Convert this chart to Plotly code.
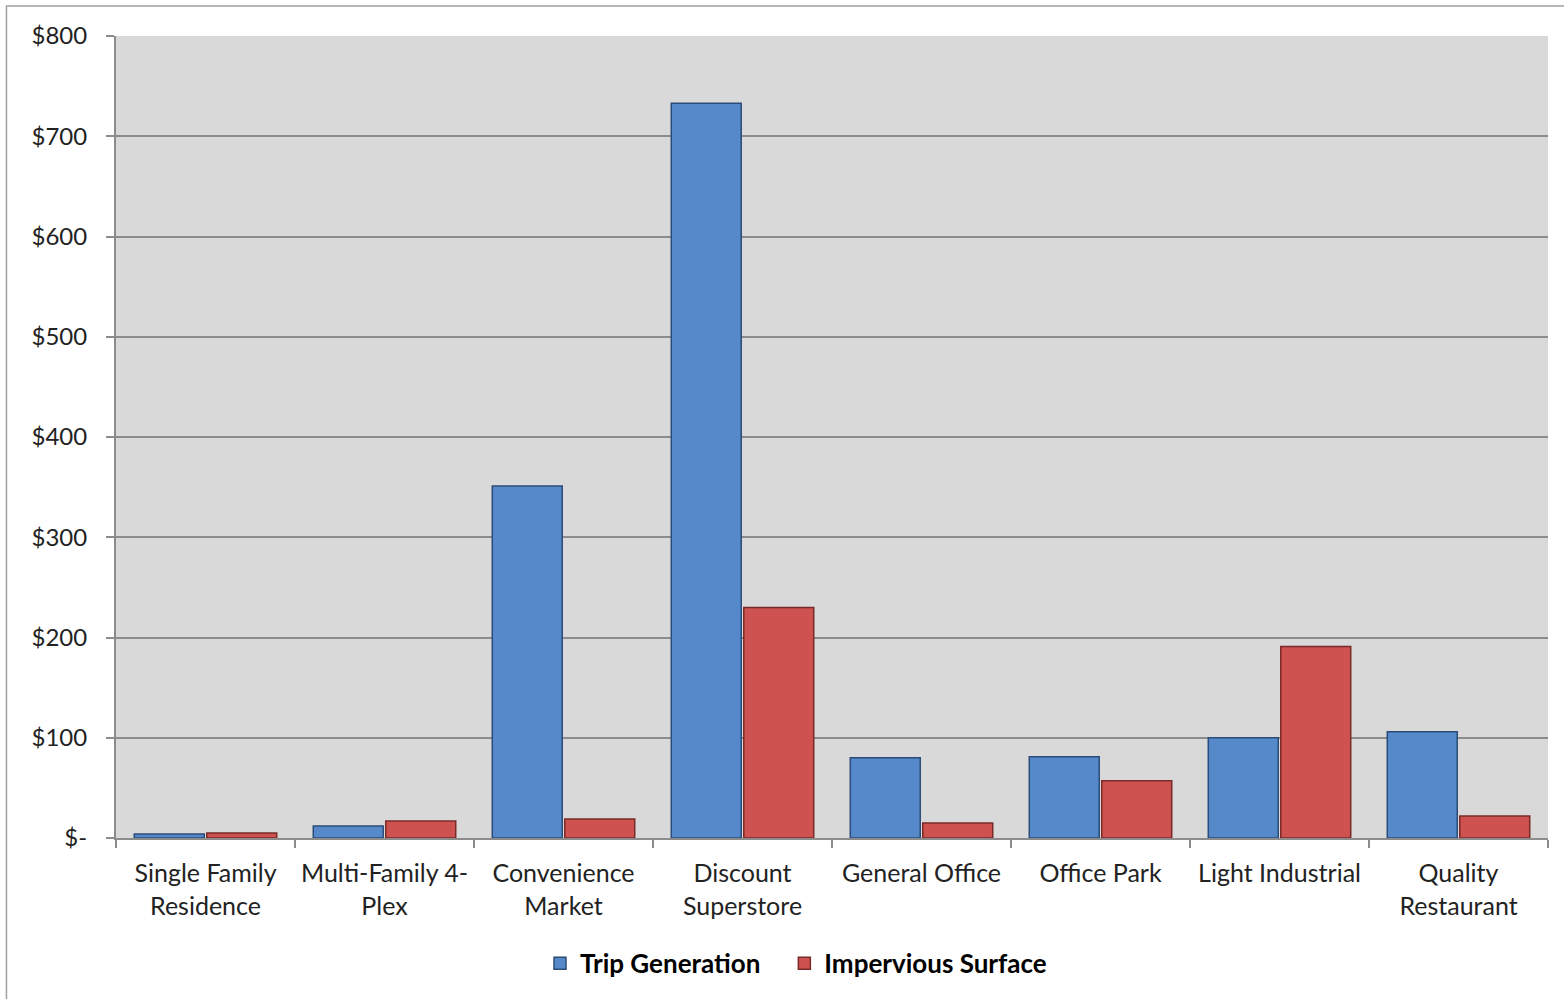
import plotly.graph_objects as go

categories = ["Single Family<br>Residence", "Multi-Family 4-<br>Plex", "Convenience<br>Market",
              "Discount<br>Superstore", "General Office", "Office Park", "Light Industrial",
              "Quality<br>Restaurant"]
trip_generation = [4, 12, 351, 733, 80, 81, 100, 106]
impervious_surface = [5, 17, 19, 230, 15, 57, 191, 22]
tick_vals = [0, 100, 200, 300, 400, 500, 600, 700, 800]
tick_text = ["$-", "$100", "$200", "$300", "$400", "$500", "$600", "$700", "$800"]

FONT = "Lato"
PAD = "\u00a0" * 3

fig = go.Figure()
fig.add_trace(go.Bar(x=categories, y=trip_generation, name="Trip Generation" + PAD,
                     marker=dict(color="#5589CA", line=dict(color="#2B4C78", width=1.5))))
fig.add_trace(go.Bar(x=categories, y=impervious_surface, name="Impervious Surface",
                     marker=dict(color="#CD5250", line=dict(color="#7A2A29", width=1.5))))

fig.update_layout(
    width=1564, height=999,
    margin=dict(l=116, r=16, t=36, b=161),
    paper_bgcolor="white", plot_bgcolor="#D9D9D9",
    barmode="group", bargap=0.19, bargroupgap=0.035,
    font=dict(family=FONT, size=24, color="#222222"),
    showlegend=True,
    legend=dict(orientation="h", x=(540 - 116) / 1432, xanchor="left", y=-0.127, yanchor="top",
                font=dict(family=FONT, size=26, color="#000000", weight="bold"),
                itemwidth=30, traceorder="normal", bgcolor="rgba(0,0,0,0)"),
    shapes=[dict(type="rect", xref="paper", yref="paper", x0=-0.0765, x1=1.02, y0=-0.25, y1=1.0374,
                 line=dict(color="#A0A0A0", width=1.5), fillcolor="rgba(0,0,0,0)", layer="below")],
)
fig.update_xaxes(showgrid=False, showline=True, linecolor="#8C8C8C", linewidth=2,
                 ticks="outside", tickson="boundaries", ticklen=8, tickcolor="#8C8C8C", tickwidth=2,
                 ticklabelstandoff=12,
                 tickfont=dict(family=FONT, size=25, color="#222222"))
fig.update_yaxes(range=[0, 800], tickvals=tick_vals, ticktext=tick_text,
                 showgrid=True, gridcolor="#8C8C8C", gridwidth=2,
                 showline=True, linecolor="#8C8C8C", linewidth=2, zeroline=False,
                 ticks="outside", ticklen=8, tickcolor="#8C8C8C", tickwidth=2,
                 ticklabelstandoff=14,
                 tickfont=dict(family=FONT, size=24, color="#222222"))

fig.write_html("out.html")
